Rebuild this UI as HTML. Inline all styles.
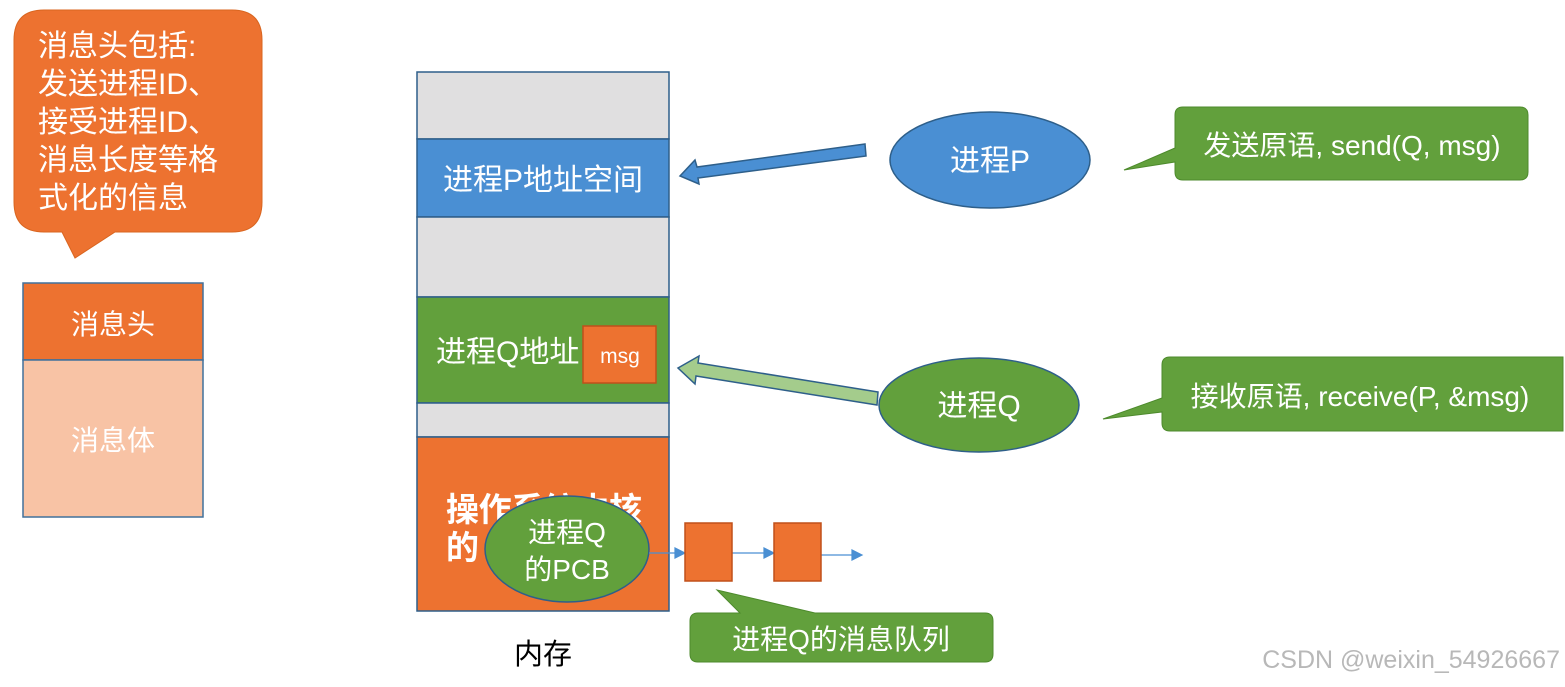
<!DOCTYPE html>
<html><head><meta charset="utf-8"><style>
html,body{margin:0;padding:0;background:#fff;}
svg{display:block;font-family:"Liberation Sans","Noto Sans CJK SC",sans-serif;}
</style></head><body>
<svg width="1565" height="687" viewBox="0 0 1565 687" xmlns="http://www.w3.org/2000/svg">
<path d="M44,10 H232 Q262,10 262,40 V202 Q262,232 232,232 H115 L75,258 L62,232 H44 Q14,232 14,202 V40 Q14,10 44,10 Z" fill="#ed7230" stroke="#d9651f" stroke-width="1"/>
<g fill="#fff" font-size="30">
<text x="38" y="56">消息头包括:</text>
<text x="38" y="94">发送进程ID、</text>
<text x="38" y="132">接受进程ID、</text>
<text x="38" y="170">消息长度等格</text>
<text x="38" y="208">式化的信息</text>
</g>
<rect x="23" y="283" width="180" height="77" fill="#ed7230" stroke="#41719c" stroke-width="1.5"/>
<rect x="23" y="360" width="180" height="157" fill="#f8c3a5" stroke="#41719c" stroke-width="1.5"/>
<text x="113" y="334" font-size="28" fill="#fff" text-anchor="middle">消息头</text>
<text x="113" y="450" font-size="28" fill="#fff" text-anchor="middle">消息体</text>
<g stroke="#2e5f8a" stroke-width="1.5">
<rect x="417" y="72" width="252" height="67" fill="#e0dfe0"/>
<rect x="417" y="139" width="252" height="78" fill="#4a8fd3"/>
<rect x="417" y="217" width="252" height="80" fill="#e0dfe0"/>
<rect x="417" y="297" width="252" height="106" fill="#62a03c"/>
<rect x="417" y="403" width="252" height="34" fill="#e0dfe0"/>
<rect x="417" y="437" width="252" height="174" fill="#ed7230"/>
</g>
<text x="543" y="190" font-size="30" fill="#fff" text-anchor="middle">进程P地址空间</text>
<text x="436" y="362" font-size="30" fill="#fff">进程Q地址</text>
<rect x="583" y="326" width="73" height="57" fill="#ed7230" stroke="#c0501a" stroke-width="1.5"/>
<text x="620" y="363" font-size="21" fill="#fff" text-anchor="middle">msg</text>
<text x="446" y="521" font-size="33" fill="#fff" font-weight="bold" textLength="196">操作系统内核</text>
<text x="446" y="559" font-size="33" fill="#fff" font-weight="bold">的</text>
<ellipse cx="567" cy="549" rx="82" ry="53" fill="#62a03c" stroke="#2e5f8a" stroke-width="1.5"/>
<text x="567" y="542" font-size="28" fill="#fff" text-anchor="middle">进程Q</text>
<text x="567" y="579" font-size="28" fill="#fff" text-anchor="middle">的PCB</text>
<g stroke="#4a8fd3" stroke-width="1.2" fill="#4a8fd3">
<line x1="649" y1="553" x2="678" y2="553"/><path d="M685,553 L675,548 L675,558 Z"/>
<line x1="732" y1="553" x2="767" y2="553"/><path d="M774,553 L764,548 L764,558 Z"/>
<line x1="821" y1="555" x2="853" y2="555"/><path d="M862,555 L852,550 L852,560 Z"/>
</g>
<rect x="685" y="523" width="47" height="58" fill="#ed7230" stroke="#c0501a" stroke-width="1.5"/>
<rect x="774" y="523" width="47" height="58" fill="#ed7230" stroke="#c0501a" stroke-width="1.5"/>
<path d="M698,613 H740 L717,590 L815,613 H985 Q993,613 993,621 V654 Q993,662 985,662 H698 Q690,662 690,654 V621 Q690,613 698,613 Z" fill="#62a03c" stroke="#4d8a2c" stroke-width="1"/>
<text x="841" y="649" font-size="28" fill="#fff" text-anchor="middle">进程Q的消息队列</text>
<text x="543" y="664" font-size="29" fill="#000" text-anchor="middle">内存</text>
<path d="M865,144 L697,167 L695,160 L680,176 L699,184 L698,178 L866,156 Z" fill="#4a8fd3" stroke="#2e5f8a" stroke-width="1.5"/>
<path d="M878,392 L698,363 L699,356 L678,368 L695,384 L696,376 L877,405 Z" fill="#a4cc8c" stroke="#2e5f8a" stroke-width="1.5"/>
<ellipse cx="990" cy="160" rx="100" ry="48" fill="#4a8fd3" stroke="#2e5f8a" stroke-width="1.5"/>
<text x="990" y="171" font-size="30" fill="#fff" text-anchor="middle">进程P</text>
<ellipse cx="979" cy="405" rx="100" ry="47" fill="#62a03c" stroke="#2e5f8a" stroke-width="1.5"/>
<text x="979" y="416" font-size="30" fill="#fff" text-anchor="middle">进程Q</text>
<path d="M1183,107 H1520 Q1528,107 1528,115 V172 Q1528,180 1520,180 H1183 Q1175,180 1175,172 V162 L1124,170 L1175,148 V115 Q1175,107 1183,107 Z" fill="#62a03c" stroke="#4d8a2c" stroke-width="1"/>
<text x="1352" y="155" font-size="28" fill="#fff" text-anchor="middle">发送原语, send(Q, msg)</text>
<path d="M1170,357 H1563 V431 H1170 Q1162,431 1162,423 V412 L1103,419 L1162,398 V365 Q1162,357 1170,357 Z" fill="#62a03c" stroke="#4d8a2c" stroke-width="1"/>
<text x="1360" y="406" font-size="28" fill="#fff" text-anchor="middle">接收原语, receive(P, &amp;msg)</text>
<text x="1560" y="668" font-size="25" fill="#b8b8b8" text-anchor="end">CSDN @weixin_54926667</text>
</svg>
</body></html>
